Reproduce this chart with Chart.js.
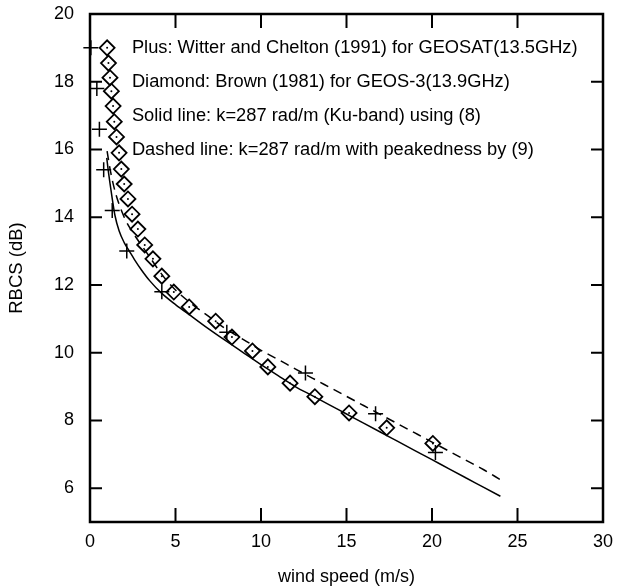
<!DOCTYPE html>
<html>
<head>
<meta charset="utf-8">
<script src="https://cdn.jsdelivr.net/npm/chart.js@4.4.1/dist/chart.umd.min.js"></script>
<style>
    html, body { margin: 0; padding: 0; background: #fff; }
    #contenedor { width: 617px; height: 586px; position: relative; }
</style>
</head>
<body>
<div id="contenedor"><canvas id="myChart01"></canvas></div>
<script>
// Plus: Witter and Chelton (1991), GEOSAT
var plusViento = [0.05, 0.4, 0.55, 0.8, 1.3, 2.15, 4.2, 8.0, 12.6, 16.7, 20.2];
var plusRbcs   = [19.0, 17.8, 16.6, 15.4, 14.2, 13.0, 11.8, 10.6, 9.4, 8.2, 7.05];

// Diamond: Brown (1981), GEOS-3
var diamViento = [1.0, 1.08, 1.17, 1.25, 1.35, 1.42, 1.55, 1.7, 1.83, 2.0, 2.22, 2.46, 2.8, 3.2,
                  3.68, 4.2, 4.9, 5.8, 7.35, 8.3, 9.5, 10.4, 11.7, 13.15, 15.15, 17.35, 20.05];
var diamRbcs   = [19.0, 18.55, 18.12, 17.72, 17.28, 16.82, 16.37, 15.9, 15.42, 14.98, 14.54, 14.09, 13.65, 13.18,
                  12.77, 12.26, 11.79, 11.35, 10.93, 10.46, 10.05, 9.58, 9.1, 8.7, 8.22, 7.78, 7.32];

// Solid line: k=287 rad/m using (8)
var solidaViento = [0.98, 1.05, 1.17, 1.3, 1.46, 1.7, 2.0, 2.3, 2.6, 3.0, 3.5, 4.2, 5, 6, 7, 8, 9, 10,
                    11, 12, 13, 14, 15, 16, 17, 18, 19, 20, 21, 22, 23, 24];
var solidaRbcs   = [15.75, 15.45, 15.0, 14.55, 14.05, 13.6, 13.25, 13.0, 12.75, 12.45, 12.12, 11.75, 11.42, 11.05,
                    10.68, 10.33, 9.99, 9.65, 9.32, 9.0, 8.73, 8.46, 8.19, 7.92, 7.65, 7.38, 7.11, 6.84,
                    6.57, 6.30, 6.03, 5.76];

// Dashed line: k=287 rad/m with peakedness by (9)
var trazosViento = [1.0, 1.2, 1.5, 2.0, 2.5, 3.0, 3.5, 4.0, 4.5, 5, 6, 7, 8, 9, 10, 11, 12, 13, 14, 15,
                    16, 17, 18, 19, 20, 21, 22, 23, 24];
var trazosRbcs   = [15.95, 15.35, 14.7, 14.0, 13.55, 13.18, 12.82, 12.45, 12.12, 11.85, 11.42, 11.05, 10.68,
                    10.38, 10.07, 9.8, 9.52, 9.25, 8.98, 8.71, 8.44, 8.17, 7.9, 7.63, 7.36, 7.09, 6.82,
                    6.55, 6.25];

var xTicks = [0, 5, 10, 15, 20, 25, 30];
var yTicks = [6, 8, 10, 12, 14, 16, 18, 20];

var leyenda = [
    'Plus: Witter and Chelton (1991) for GEOSAT(13.5GHz)',
    'Diamond: Brown (1981) for GEOS-3(13.9GHz)',
    'Solid line: k=287 rad/m (Ku-band) using (8)',
    'Dashed line: k=287 rad/m with peakedness by (9)'
];
var leyendaY = [19, 18, 17, 16];
var leyendaX = 2.45;

var fuente = "'Liberation Sans', Arial, sans-serif";

function puntos(xs, ys) {
    return xs.map(function (v, i) { return { x: v, y: ys[i] }; });
}

function sinRelleno(s) {
    s.paddingTop = 0; s.paddingBottom = 0; s.paddingLeft = 0; s.paddingRight = 0;
}

// marco y marcas hacia dentro
var marco = {
    id: 'marco',
    afterDraw: function (chart) {
        var ctx = chart.ctx;
        var a = chart.chartArea;
        var sx = chart.scales.x, sy = chart.scales.y;
        ctx.save();
        ctx.strokeStyle = '#000';
        ctx.lineWidth = 2;
        ctx.beginPath();
        xTicks.forEach(function (v) {
            var px = sx.getPixelForValue(v);
            ctx.moveTo(px, a.bottom); ctx.lineTo(px, a.bottom - 14);
            ctx.moveTo(px, a.top); ctx.lineTo(px, a.top + 14);
        });
        yTicks.forEach(function (v) {
            var py = sy.getPixelForValue(v);
            ctx.moveTo(a.left, py); ctx.lineTo(a.left + 12, py);
            ctx.moveTo(a.right, py); ctx.lineTo(a.right - 12, py);
        });
        ctx.stroke();
        ctx.lineWidth = 2.5;
        ctx.strokeRect(a.left, a.top, a.right - a.left, a.bottom - a.top);
        ctx.restore();
    }
};

var textoLeyenda = {
    id: 'textoLeyenda',
    afterDatasetsDraw: function (chart) {
        var ctx = chart.ctx;
        var sx = chart.scales.x, sy = chart.scales.y;
        ctx.save();
        ctx.fillStyle = '#000';
        ctx.font = '18.3px ' + fuente;
        ctx.textAlign = 'left';
        ctx.textBaseline = 'middle';
        leyenda.forEach(function (t, i) {
            ctx.fillText(t, sx.getPixelForValue(leyendaX), sy.getPixelForValue(leyendaY[i]));
        });
        ctx.restore();
    }
};

var ctx = document.getElementById('myChart01');

var myChart1 = new Chart(ctx, {
    type: 'line',
    data: {
        datasets: [{
            label: 'Solid',
            data: puntos(solidaViento, solidaRbcs),
            borderColor: '#000',
            borderWidth: 1.5,
            pointRadius: 0,
            cubicInterpolationMode: 'monotone',
            fill: false
        }, {
            label: 'Dashed',
            data: puntos(trazosViento, trazosRbcs),
            borderColor: '#000',
            borderWidth: 1.5,
            borderDash: [9, 6],
            pointRadius: 0,
            cubicInterpolationMode: 'monotone',
            fill: false
        }, {
            label: 'Plus',
            data: puntos(plusViento, plusRbcs),
            showLine: false,
            pointStyle: 'cross',
            pointRadius: 7.5,
            pointBorderWidth: 1.5,
            borderColor: '#000',
            clip: false
        }, {
            label: 'Diamond',
            data: puntos(diamViento, diamRbcs),
            showLine: false,
            pointStyle: 'rectRot',
            pointRadius: 7.5,
            pointBorderWidth: 1.8,
            borderColor: '#000',
            backgroundColor: 'rgba(0,0,0,0)',
            clip: false
        }, {
            label: 'Diamond centre',
            data: puntos(diamViento, diamRbcs),
            showLine: false,
            pointStyle: 'circle',
            pointRadius: 1,
            pointBorderWidth: 0,
            backgroundColor: '#000',
            borderColor: '#000',
            clip: false
        }]
    },
    options: {
        responsive: true,
        maintainAspectRatio: false,
        animation: false,
        layout: { padding: { left: 0, top: 14, right: 14, bottom: 0 } },
        plugins: {
            legend: { display: false },
            tooltip: { enabled: false },
            title: { display: false }
        },
        scales: {
            x: {
                type: 'linear',
                min: 0,
                max: 30,
                afterBuildTicks: function (s) { s.ticks = xTicks.map(function (v) { return { value: v }; }); },
                afterFit: function (s) { s.height = 64; sinRelleno(s); },
                grid: { display: false },
                border: { display: false },
                ticks: { color: '#000', padding: 1, maxRotation: 0, font: { family: fuente, size: 18 } },
                title: { display: true, text: 'wind speed (m/s)', color: '#000', padding: { top: 0, bottom: 0 },
                         font: { family: fuente, size: 18, lineHeight: 1 } }
            },
            y: {
                type: 'linear',
                min: 5,
                max: 20,
                afterBuildTicks: function (s) { s.ticks = yTicks.map(function (v) { return { value: v }; }); },
                afterFit: function (s) { s.width = 90; sinRelleno(s); },
                grid: { display: false },
                border: { display: false },
                ticks: { color: '#000', padding: 8, font: { family: fuente, size: 18 } },
                title: { display: true, text: 'RBCS (dB)', color: '#000', padding: { top: 6, bottom: 0 },
                         font: { family: fuente, size: 18.5 } }
            }
        }
    },
    plugins: [marco, textoLeyenda]
});
</script>
</body>
</html>
